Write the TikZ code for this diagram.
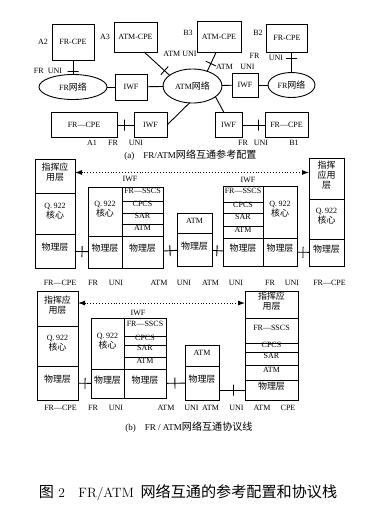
\documentclass[tikz,border=0pt]{standalone}
\usepackage{fontspec}
\newfontfamily\tnr{Liberation Serif}
\newfontfamily\cjkfont[Scale=1.12]{Noto Sans CJK SC}
\newcommand{\zh}[1]{{\cjkfont #1}}
\usetikzlibrary{arrows.meta,shapes.geometric,fit}

\begin{document}
\begin{tikzpicture}[x=1pt, y=-1pt, line width=0.9pt,
  font=\tnr\fontsize{8}{10}\selectfont,
  box/.style={draw, inner sep=0pt, outer sep=0pt, align=center},
  cloud/.style={draw, ellipse, inner sep=0pt, outer sep=0pt},
  cell/.style={draw, inner sep=0pt, outer sep=0pt, align=center},
  unitick/.style={draw, sloped, inner sep=0pt, outer sep=0pt, minimum width=0pt, minimum height=11pt},
  lbl/.style={inner sep=0pt},
  peer/.style={dotted, {Latex[length=7pt,width=5pt]}-{Latex[length=7pt,width=5pt]}}]
  \useasboundingbox (0,0) rectangle (380,523);

  % (a) reference configuration
  \node[box, minimum width=42pt, minimum height=36pt] (a2) at (73,42) {FR-CPE};
  \node[box, minimum width=43pt, minimum height=30pt] (a3) at (135.5,37) {ATM-CPE};
  \node[box, minimum width=44pt, minimum height=31pt] (b3) at (219,36.5) {ATM-CPE};
  \node[box, minimum width=41pt, minimum height=28pt] (b2) at (287,38) {FR-CPE};
  \node[cloud, minimum width=68pt, minimum height=25pt] (frnetL) at (73,87) {FR\zh{网络}};
  \node[box, minimum width=32pt, minimum height=26pt] (iwfL) at (131,87) {IWF};
  \node[cloud, minimum width=59pt, minimum height=34pt] (atmnet) at (192.5,86) {ATM\zh{网络}};
  \node[box, minimum width=26pt, minimum height=24pt] (iwfR) at (245,85) {IWF};
  \node[cloud, minimum width=47pt, minimum height=25pt] (frnetR) at (291.5,85) {FR\zh{网络}};
  \node[box, minimum width=66pt, minimum height=25pt] (a1) at (84,125) {FR—CPE};
  \node[box, minimum width=33pt, minimum height=25pt] (iwfA1) at (150.5,125) {IWF};
  \node[box, minimum width=27pt, minimum height=25pt] (iwfB1) at (228.5,125) {IWF};
  \node[box, minimum width=43pt, minimum height=25pt] (b1) at (286.5,125) {FR—CPE};

  \draw (a2) -- node[unitick, pos=.76] (k1) {} (frnetL);
  \draw (b2.south -| frnetR.north) -- node[unitick, pos=.33] (k2) {} (frnetR.north);
  \draw (a3.-60) -- node[unitick, pos=.8] (k3) {} (atmnet.155);
  \draw (b3.-100) -- node[unitick, pos=.6] (k4) {} (atmnet.45);
  \draw (frnetL) -- (iwfL);
  \draw (iwfL) -- (atmnet);
  \draw (atmnet) -- (iwfR);
  \draw (iwfR) -- (frnetR);
  \draw (atmnet.-100) -- (iwfA1.east);
  \draw (atmnet.-25) -- (iwfB1.110);
  \draw (a1) -- node[unitick, pos=.41] (k5) {} (iwfA1);
  \draw (iwfB1) -- node[unitick, pos=.7] (k6) {} (b1);

  \foreach \nm/\px/\py/\txt in {tA2/43/42/A2, tA3/105/37/A3, tB3/188/33/B3, tB2/258/33/B2,
      tFRa/48/71/{FR\enspace UNI}, tATMa/180/54/{ATM UNI},
      tATMb/224.5/66.5/ATM, tUNIb/247.5/66.5/UNI, tFRb/254.5/55.5/FR, tUNIc/276/57.5/UNI,
      tA1/92/143/A1, tFRd/113/143/FR, tUNId/136/143/UNI,
      tFRe/243/143/FR, tUNIe/261/143/UNI, tB1/294/143/B1}
    \node[lbl] (\nm) at (\px,\py) {\txt};
  \node[lbl, font=\tnr\fontsize{9}{10}\selectfont] (capa) at (190.5,155)
    {(a)\quad FR/ATM\zh{网络互通参考配置}};

  % (b) protocol stacks, upper row
  \foreach \nm/\xa/\ya/\xb/\yb/\txt in {
      cpe1a/35/159/75/193/{\zh{指挥应}\\\zh{用层}},
      cpe1b/35/193/75/234/{Q.\,922\\\zh{核心}},
      cpe1c/35/234/75/268/{\zh{物理层}},
      iwf1q/88/187/122/236/{Q.\,922\\\zh{核心}},
      iwf1s/122/187/163/201/{FR—SSCS},
      iwf1c/122/201/163/213/{CPCS},
      iwf1r/122/213/163/224/{SAR},
      iwf1m/122/224/163/236/{ATM},
      iwf1p/88/236/122/268/{\zh{物理层}},
      iwf1u/122/236/163/268/{\zh{物理层}},
      sw1m/177/213/212/233/{ATM},
      sw1p/177/233/212/266/{\zh{物理层}},
      iwr1s/223/186/263/202/{FR—SSCS},
      iwr1c/223/202/263/213/{CPCS},
      iwr1r/223/213/263/226/{SAR},
      iwr1m/223/226/263/238/{ATM},
      iwr1q/263/186/297/238/{Q.\,922\\\zh{核心}},
      iwr1u/223/238/263/266/{\zh{物理层}},
      iwr1p/263/238/297/266/{\zh{物理层}},
      cpr1a/309/158/344/199/{\zh{指挥}\\\zh{应用}\\\zh{层}},
      cpr1b/309/199/344/239/{Q.\,922\\\zh{核心}},
      cpr1c/309/239/344/266/{\zh{物理层}}}
    \node[cell, fit={(\xa,\ya) (\xb,\yb)}] (\nm) {\txt};
  \node[lbl] (iwfl1) at (130,179) {IWF};
  \node[lbl] (iwfl2) at (248,180) {IWF};

  \draw[peer] (cpe1a.10) -- (cpe1a.10 -| cpr1a.west);
  \draw (cpe1c) -- node[unitick, pos=.54] (k7) {} (iwf1p);
  \draw (iwf1u) -- node[unitick, pos=.5] (k8) {} (sw1p);
  \draw (sw1p) -- node[unitick, pos=.45] (k9) {} (iwr1u);
  \draw (iwr1p) -- node[unitick, pos=.5] (k10) {} (cpr1c);

  \foreach \nm/\px/\txt in {s1a/60/FR—CPE, s1b/93/FR, s1c/116/UNI, s1d/159/ATM, s1e/184/UNI,
      s1f/210.5/ATM, s1g/236/UNI, s1h/270/FR, s1i/292/UNI, s1j/329.5/FR—CPE}
    \node[lbl] (\nm) at (\px,283) {\txt};

  % (b) protocol stacks, lower row
  \foreach \nm/\xa/\ya/\xb/\yb/\txt in {
      cpe2a/37/291/78/326/{\zh{指挥应}\\\zh{用层}},
      cpe2b/37/326/78/366/{Q.\,922\\\zh{核心}},
      cpe2c/37/366/78/400/{\zh{物理层}},
      iwf2q/91/318/124/369/{Q.\,922\\\zh{核心}},
      iwf2s/124/318/166/336/{FR—SSCS},
      iwf2c/124/336/166/345/{CPCS},
      iwf2r/124/345/166/357/{SAR},
      iwf2m/124/357/166/369/{ATM},
      iwf2p/91/369/124/398/{\zh{物理层}},
      iwf2u/124/369/166/398/{\zh{物理层}},
      sw2m/185/345/219/366/{ATM},
      sw2p/185/366/219/400/{\zh{物理层}},
      atc2a/245/291/298/318/{\zh{指挥应}\\\zh{用层}},
      atc2b/245/318/298/343/{FR—SSCS},
      atc2c/245/343/298/352/{CPCS},
      atc2r/245/352/298/365/{SAR},
      atc2m/245/365/298/380/{ATM},
      atc2p/245/380/298/400/{\zh{物理层}}}
    \node[cell, fit={(\xa,\ya) (\xb,\yb)}] (\nm) {\txt};
  \node[lbl] (iwfl3) at (138,313) {IWF};

  \draw[peer] (cpe2a.15) -- (cpe2a.15 -| atc2a.west);
  \draw (cpe2c) -- node[unitick, pos=.54] (k11) {} (iwf2p);
  \draw (iwf2u) -- node[unitick, pos=.47] (k12) {} (sw2p);
  \draw (sw2p.east |- atc2p.west) -- node[unitick, pos=.54] (k13) {} (atc2p);

  \foreach \nm/\px/\txt in {s2a/60.5/FR—CPE, s2b/93/FR, s2c/116/UNI, s2d/166/ATM, s2e/191.5/UNI,
      s2f/210.5/ATM, s2g/236.5/UNI, s2h/262/ATM, s2i/288/CPE}
    \node[lbl] (\nm) at (\px,408) {\txt};
  \node[lbl, font=\tnr\fontsize{9}{10}\selectfont] (capb) at (189,427)
    {(b)\quad FR / ATM\zh{网络互通协议线}};

  % figure caption
  \node[lbl, font=\rmfamily\fontsize{13.5}{15}\selectfont] (figcap) at (188,493)
    {\zh{图}~2\quad FR/ATM\enspace\zh{网络互通的参考配置和协议栈}};
\end{tikzpicture}
\end{document}
